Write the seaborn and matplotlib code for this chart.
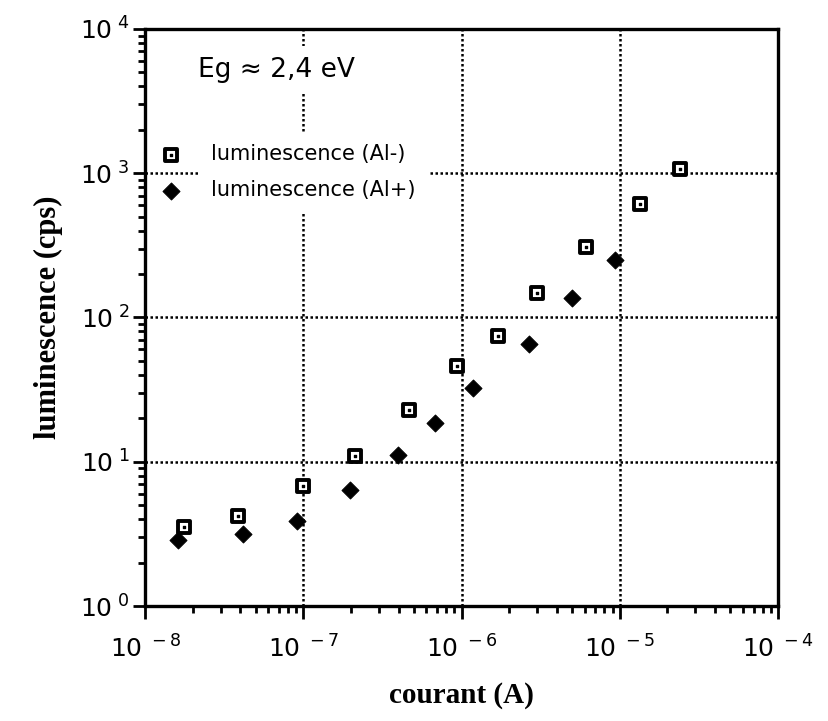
import numpy as np
import pandas as pd
import matplotlib
matplotlib.use("Agg")
import matplotlib.pyplot as plt
import matplotlib.ticker as mticker
import seaborn as sns

# données
courant_moins = [1.77e-8, 3.86e-8, 9.9e-8, 2.13e-7, 4.65e-7, 9.4e-7, 1.70e-6, 3.01e-6, 6.15e-6, 1.35e-5, 2.41e-5]
lum_moins = [3.53, 4.22, 6.8, 11.0, 22.8, 46, 74, 148, 309, 608, 1062]
courant_plus = [1.61e-8, 4.15e-8, 9.1e-8, 1.98e-7, 3.97e-7, 6.84e-7, 1.18e-6, 2.67e-6, 5.02e-6, 9.33e-6]
lum_plus = [2.87, 3.14, 3.90, 6.37, 11.1, 18.5, 32.6, 65.4, 137, 250]

df_moins = pd.DataFrame({"courant": courant_moins, "lum": lum_moins})
df_plus = pd.DataFrame({"courant": courant_plus, "lum": lum_plus})

sns.set_style("white")
plt.rcParams["font.family"] = ["DejaVu Sans"]
plt.rcParams["mathtext.default"] = "regular"
plt.rcParams["text.color"] = "black"
plt.rcParams["xtick.color"] = "black"
plt.rcParams["ytick.color"] = "black"
plt.rcParams["axes.labelcolor"] = "black"

fig = plt.figure(figsize=(8.29, 7.21), dpi=100)
ax = fig.add_axes([0.175, 0.1595, 0.7635, 0.8003])

sns.scatterplot(data=df_moins, x="courant", y="lum", ax=ax, marker="s", s=70,
                facecolor="white", edgecolor="black", linewidth=2.8, zorder=3)
sq_h = ax.collections[-1]
ax.scatter(courant_moins, lum_moins, marker="s", s=3, color="black", zorder=4)
dot_h = ax.collections[-1]
sns.scatterplot(data=df_plus, x="courant", y="lum", ax=ax, marker="D", s=75,
                color="black", edgecolor="black", zorder=3)
di_h = ax.collections[-1]

ax.set_xscale("log")
ax.set_yscale("log")
ax.set_xlim(1e-8, 1e-4)
ax.set_ylim(1, 1e4)

ax.xaxis.set_major_locator(mticker.LogLocator(base=10, numticks=10))
ax.yaxis.set_major_locator(mticker.LogLocator(base=10, numticks=10))
ax.xaxis.set_minor_locator(mticker.LogLocator(base=10, subs=np.arange(2, 10), numticks=20))
ax.yaxis.set_minor_locator(mticker.LogLocator(base=10, subs=np.arange(2, 10), numticks=20))
fmt = mticker.FuncFormatter(lambda v, p: r"$10^{\ %d}$" % round(np.log10(v)))
ax.xaxis.set_major_formatter(fmt)
ax.yaxis.set_major_formatter(fmt)
ax.xaxis.set_minor_formatter(mticker.NullFormatter())
ax.yaxis.set_minor_formatter(mticker.NullFormatter())

ax.grid(True, which="major", color="black", linestyle=(0, (1, 1)), linewidth=1.8)
ax.tick_params(which="major", direction="out", length=9, width=2, labelsize=18,
               bottom=True, left=True)
ax.tick_params(axis="x", which="major", pad=12)
ax.tick_params(axis="y", which="major", pad=2)
ax.tick_params(which="minor", direction="out", length=5, width=2, bottom=True, left=True)
for s in ax.spines.values():
    s.set_linewidth(2.4)
    s.set_color("black")

ax.set_xlabel("courant (A)", family="Liberation Serif", fontweight="bold", fontsize=21, labelpad=14)
ax.set_ylabel("luminescence (cps)", family="Liberation Serif", fontweight="bold", fontsize=22, labelpad=12)

# texte et légende sur fond blanc (masquent la grille)
ax.text(0.083, 0.929, "Eg \u2248 2,4 eV", transform=ax.transAxes, fontsize=19, va="center",
        zorder=5, bbox=dict(facecolor="white", edgecolor="none", pad=8))
leg = ax.legend([(sq_h, dot_h), di_h], ["luminescence (Al-)", "luminescence (Al+)"],
                loc="upper left", bbox_to_anchor=(0.025, 0.80), frameon=False, fontsize=15,
                handletextpad=1.4, labelspacing=0.75, handlelength=1.0, borderaxespad=0,
                borderpad=0, labelcolor="black")
for t in leg.get_texts():
    t.set_bbox(dict(facecolor="white", edgecolor="none", pad=9))
leg.set_zorder(5)

fig.savefig("out.png", dpi=100)
